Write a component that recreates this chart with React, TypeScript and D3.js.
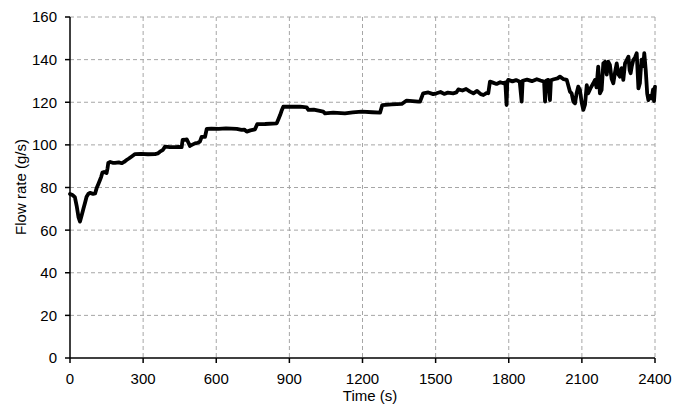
import React from "react";
import * as d3 from "d3";

const times: number[] = [
  0, 10, 20, 28, 35, 41, 48, 55, 62, 68, 75, 82, 95, 103, 109, 116, 123, 128, 133, 140,
  150, 154, 157, 165, 175, 185, 200, 212, 222, 232, 240, 246, 256, 267, 290, 320, 349, 360, 369, 380,
  390, 410, 431, 445, 458, 462, 470, 479, 486, 492, 500, 513, 525, 533, 540, 554, 561, 580, 610, 640,
  684, 704, 715, 725, 740, 759, 768, 800, 848, 855, 862, 868, 875, 900, 944, 971, 978, 1000, 1039, 1046,
  1080, 1128, 1160, 1197, 1240, 1272, 1281, 1320, 1361, 1381, 1429, 1436, 1449, 1470, 1490, 1504, 1520, 1535, 1550, 1572,
  1585, 1593, 1610, 1625, 1641, 1655, 1670, 1685, 1696, 1710, 1716, 1723, 1735, 1750, 1765, 1778, 1786, 1791, 1794, 1798,
  1815, 1830, 1845, 1853, 1857, 1875, 1895, 1915, 1930, 1945, 1949, 1953, 1962, 1969, 1973, 1985, 2000, 2010, 2025, 2038,
  2051, 2058, 2065, 2072, 2078, 2085, 2092, 2099, 2106, 2113, 2120, 2126, 2135, 2147, 2154, 2160, 2167, 2174, 2181, 2188,
  2195, 2202, 2208, 2215, 2222, 2229, 2236, 2243, 2250, 2256, 2263, 2270, 2277, 2284, 2291, 2296, 2300, 2305, 2311, 2318,
  2325, 2332, 2338, 2341, 2345, 2352, 2356, 2362, 2368, 2373, 2380, 2386, 2392, 2396, 2400,
];

const flowRates: number[] = [
  77, 76.5, 75.5, 71, 66, 64, 67, 70, 73, 75.7, 77, 77.5, 77, 77.2, 79.6, 81.5, 83.5, 85, 87, 87.3,
  86.8, 89, 91.5, 92, 91.6, 91.6, 91.8, 91.4, 92, 92.9, 93.5, 94, 94.8, 95.7, 95.8, 95.6, 95.7, 96, 96.8, 97.5,
  99.2, 98.9, 98.9, 99, 98.9, 102.3, 102.4, 102.6, 101, 99.5, 100, 100.7, 101, 101.5, 103.8, 103.8, 107.5, 107.6, 107.5, 107.7,
  107.5, 107, 107.2, 106.2, 106.8, 107.3, 109.7, 109.8, 110.1, 112, 114, 116, 117.9, 117.9, 117.9, 117.6, 116.4, 116.5, 115.6, 114.8,
  115.1, 114.8, 115.2, 115.6, 115.3, 115.1, 118.7, 119, 119.2, 120.8, 120.3, 120.3, 124.2, 124.6, 123.8, 124.2, 124.8, 123.9, 124.5, 124.2,
  124.6, 126, 125.5, 126.2, 125, 124.2, 125.3, 123.8, 123.4, 124.4, 124.2, 129.7, 129.2, 128.6, 129.4, 128.9, 129.3, 118.7, 129.5, 130.5,
  129.8, 130.4, 129.6, 120.3, 130.1, 130.6, 129.9, 130.8, 130.2, 129.7, 120.3, 130.1, 130.5, 121, 130.3, 130.8, 131.2, 132, 130.8, 130.5,
  125, 124.2, 120.3, 119.5, 124, 127.3, 125.8, 120, 116.4, 119, 128, 124.2, 126.5, 128.9, 130.5, 127, 136.7, 124.2, 125.8, 138.2,
  139, 133, 139, 137.5, 131, 128.9, 134, 138.2, 133, 132, 136, 130.5, 138.2, 139.8, 141.4, 135, 133.6, 137, 139.8, 141,
  143, 126.5, 128.9, 134.3, 140, 137, 143, 135, 124, 121, 123, 121.8, 126, 120.5, 127.3,
];

const xTicks: number[] = [0, 300, 600, 900, 1200, 1500, 1800, 2100, 2400];
const yTicks: number[] = [0, 20, 40, 60, 80, 100, 120, 140, 160];

const W = 687;
const H = 407;
const left = 70;
const right = 655;
const top = 17;
const bottom = 358;
const font = "'Liberation Sans', Arial, sans-serif";
const fs = 15;

export default function App() {
  const x = d3.scaleLinear().domain([0, 2400]).range([left, right]);
  const y = d3.scaleLinear().domain([0, 160]).range([bottom, top]);
  const data = times.map((t, i) => [t, flowRates[i]] as [number, number]);
  const line = d3
    .line<[number, number]>()
    .x((d) => x(d[0]))
    .y((d) => y(d[1]));

  return (
    <svg
      width={W}
      height={H}
      viewBox={`0 0 ${W} ${H}`}
      style={{ position: "absolute", left: 0, top: 0, background: "#fff" }}
    >
      <rect x={0} y={0} width={W} height={H} fill="#fff" />
      {yTicks
        .filter((v) => v > 0)
        .map((v) => (
          <line
            key={"gy" + v}
            x1={left}
            x2={right}
            y1={y(v)}
            y2={y(v)}
            stroke="#a6a6a6"
            strokeWidth={1}
            strokeDasharray="4,3"
          />
        ))}
      {xTicks
        .filter((v) => v > 0)
        .map((v) => (
          <line
            key={"gx" + v}
            x1={x(v)}
            x2={x(v)}
            y1={top}
            y2={bottom}
            stroke="#a6a6a6"
            strokeWidth={1}
            strokeDasharray="4,3"
          />
        ))}
      <line x1={left} x2={left} y1={top} y2={bottom} stroke="#000" strokeWidth={1.5} />
      <line x1={left} x2={right} y1={bottom} y2={bottom} stroke="#000" strokeWidth={1.5} />
      {yTicks.map((v) => (
        <g key={"ty" + v}>
          <line x1={left - 5} x2={left} y1={y(v)} y2={y(v)} stroke="#000" strokeWidth={1.5} />
          <text
            x={57}
            y={y(v)}
            dy="0.36em"
            textAnchor="end"
            fontFamily={font}
            fontSize={fs}
            fill="#000"
          >
            {v}
          </text>
        </g>
      ))}
      {xTicks.map((v) => (
        <g key={"tx" + v}>
          <line x1={x(v)} x2={x(v)} y1={bottom} y2={bottom + 5} stroke="#000" strokeWidth={1.5} />
          <text
            x={x(v)}
            y={384}
            textAnchor="middle"
            fontFamily={font}
            fontSize={fs}
            fill="#000"
          >
            {v}
          </text>
        </g>
      ))}
      <text x={370} y={401} textAnchor="middle" fontFamily={font} fontSize={fs} fill="#000">
        Time (s)
      </text>
      <text
        transform={`translate(26,187) rotate(-90)`}
        textAnchor="middle"
        fontFamily={font}
        fontSize={fs}
        fill="#000"
      >
        Flow rate (g/s)
      </text>
      <path
        d={line(data) || ""}
        fill="none"
        stroke="#000"
        strokeWidth={3.8}
        strokeLinejoin="round"
        strokeLinecap="round"
      />
    </svg>
  );
}
